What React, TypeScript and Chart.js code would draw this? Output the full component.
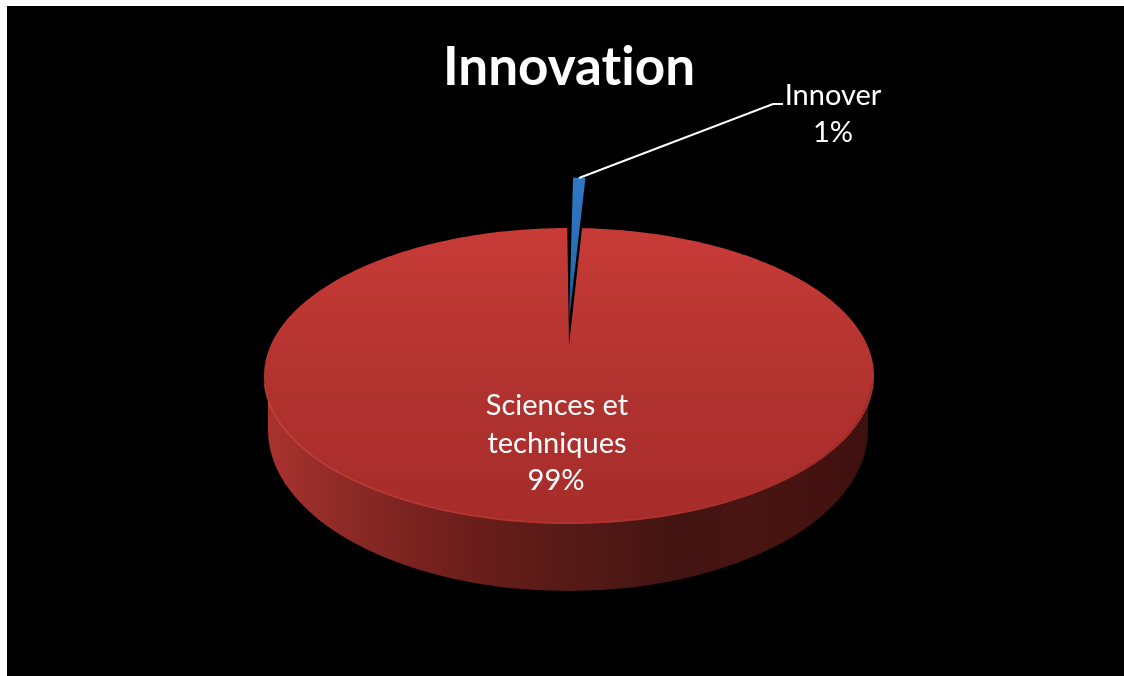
import React, { useEffect, useRef } from "react";
import { Chart, registerables } from "chart.js";

Chart.register(...registerables);

const categories = ["Innover", "Sciences et techniques"];
const sliceValues = [0.95, 99.05];
const percentLabels = ["1%", "99%"];
const chartTitle = "Innovation";
const sliceRotationDeg = -0.4;

// Perspective view of the pie disc
const APEX_Y = 345;
const FAR_Y = 228;
const NEAR_Y = 524;
const HALF_WIDTH = 305;
const LIP_BOTTOM = { cy: 430, rx: 300, ry: 161, left: 268, right: 868 };
const BLUE_LIFT = 0.18;
const BLUE_REACH = 1.39;
const BLUE_INSET_RAD = (1.15 * Math.PI) / 180;

const pc = (() => {
  const s = FAR_Y + NEAR_Y;
  const d = NEAR_Y - FAR_Y;
  const c = (s - 2 * APEX_Y) / d;
  const a = FAR_Y * (1 + c) - APEX_Y;
  return { c, a, d: HALF_WIDTH * Math.sqrt(1 - c * c) };
})();

function project(cx: number, u: number, v: number) {
  const w = 1 + pc.c * v;
  return { x: cx + (pc.d * u) / w, y: (APEX_Y + pc.a * v) / w };
}

function traceWedge(
  ctx: CanvasRenderingContext2D,
  cx: number,
  start: number,
  end: number,
  lift: number,
  reach: number
) {
  const steps = Math.max(4, Math.ceil((end - start) * 60));
  ctx.beginPath();
  const apex = project(cx, 0, lift);
  ctx.moveTo(apex.x, apex.y);
  for (let i = 0; i <= steps; i++) {
    const t = start + ((end - start) * i) / steps;
    const p = project(cx, reach * Math.cos(t), lift - reach * Math.sin(t));
    ctx.lineTo(p.x, p.y);
  }
  ctx.closePath();
}

const scenePlugin = {
  id: "scene",
  beforeDraw(chart: any) {
    const { ctx, width, height } = chart;
    ctx.textRendering = "optimizeSpeed";
    ctx.save();
    ctx.fillStyle = "#ffffff";
    ctx.fillRect(0, 0, width, height);
    ctx.fillStyle = "#000000";
    ctx.fillRect(7, 6, width - 7, height - 6);
    ctx.restore();
  },
  beforeDatasetDraw(chart: any, args: any) {
    const { ctx } = chart;
    const arcs = chart.getDatasetMeta(args.index).data;
    const cx = arcs[0].x;
    const b = LIP_BOTTOM;

    // side wall
    const wall = ctx.createLinearGradient(b.left, 0, b.right, 0);
    wall.addColorStop(0, "#aa322e");
    wall.addColorStop(0.12, "#8f2b27");
    wall.addColorStop(0.3, "#701f1c");
    wall.addColorStop(0.5, "#561a16");
    wall.addColorStop(0.7, "#421412");
    wall.addColorStop(0.8, "#4a1512");
    wall.addColorStop(1, "#3f1010");
    ctx.save();
    ctx.beginPath();
    ctx.moveTo(b.left, 376);
    ctx.lineTo(b.left, b.cy);
    ctx.ellipse(cx - 1, b.cy, b.rx, b.ry, 0, Math.PI, 0, true);
    ctx.lineTo(b.right, 376);
    ctx.closePath();
    ctx.fillStyle = wall;
    ctx.fill();

    // slices
    arcs.forEach((arc: any, i: number) => {
      const isBlue = i === 0;
      const start = arc.startAngle + (isBlue ? BLUE_INSET_RAD : 0);
      traceWedge(
        ctx,
        cx,
        start,
        arc.endAngle,
        isBlue ? BLUE_LIFT : 0,
        isBlue ? BLUE_REACH : 1
      );
      const grad = ctx.createLinearGradient(0, isBlue ? 178 : FAR_Y, 0, isBlue ? 320 : NEAR_Y);
      if (isBlue) {
        grad.addColorStop(0, "#2f78c6");
        grad.addColorStop(0.6, "#2a6cb4");
        grad.addColorStop(1, "#1d4f86");
      } else {
        grad.addColorStop(0, "#c83b37");
        grad.addColorStop(0.5, "#b23330");
        grad.addColorStop(1, "#a62c2a");
      }
      ctx.fillStyle = grad;
      ctx.fill();
    });

    // front bevel highlight
    const rim = ctx.createLinearGradient(b.left, 0, b.right, 0);
    rim.addColorStop(0, "rgba(215,80,70,0.55)");
    rim.addColorStop(0.6, "rgba(200,70,60,0.3)");
    rim.addColorStop(1, "rgba(120,35,30,0.4)");
    ctx.beginPath();
    ctx.ellipse(568, 376, HALF_WIDTH - 1, 147, 0, 0.05, Math.PI - 0.05);
    ctx.strokeStyle = rim;
    ctx.lineWidth = 1.5;
    ctx.stroke();
    ctx.restore();
    return false;
  },
  afterDatasetsDraw(chart: any) {
    const { ctx } = chart;
    ctx.save();
    // leader line
    ctx.strokeStyle = "#ffffff";
    ctx.lineWidth = 2;
    ctx.beginPath();
    ctx.moveTo(579, 178);
    ctx.lineTo(773, 104);
    ctx.lineTo(783, 104);
    ctx.stroke();

    ctx.fillStyle = "#ffffff";
    ctx.textAlign = "center";
    ctx.textBaseline = "middle";
    ctx.font = '29px "Lato"';
    ctx.fillText(categories[0], 833, 96);
    ctx.fillText(percentLabels[0], 833, 133);
    const words = categories[1].split(" ");
    ctx.fillText(words.slice(0, 2).join(" "), 557, 406);
    ctx.fillText(words[2], 557, 444);
    ctx.fillText(percentLabels[1], 556, 481);
    ctx.restore();
  },
};

export default function App() {
  const ref = useRef<HTMLCanvasElement>(null);
  useEffect(() => {
    const chart = new Chart(ref.current!, {
      type: "pie",
      data: {
        labels: categories,
        datasets: [
          {
            data: sliceValues,
            backgroundColor: ["#2f78c6", "#b23330"],
            borderWidth: 0,
          },
        ],
      },
      options: {
        responsive: false,
        animation: false,
        rotation: sliceRotationDeg,
        layout: { padding: { left: 14 } },
        plugins: {
          legend: { display: false },
          tooltip: { enabled: false },
          title: {
            display: true,
            text: chartTitle,
            color: "#ffffff",
            font: { family: "Lato", size: 53, weight: "bold" },
            padding: { top: 36, bottom: 10 },
          },
        },
      } as any,
      plugins: [scenePlugin],
    });
    return () => chart.destroy();
  }, []);
  return (
    <div style={{ position: "fixed", left: 0, top: 0, width: 1124, height: 676 }}>
      <canvas ref={ref} width={1124} height={676} style={{ display: "block" }} />
    </div>
  );
}
